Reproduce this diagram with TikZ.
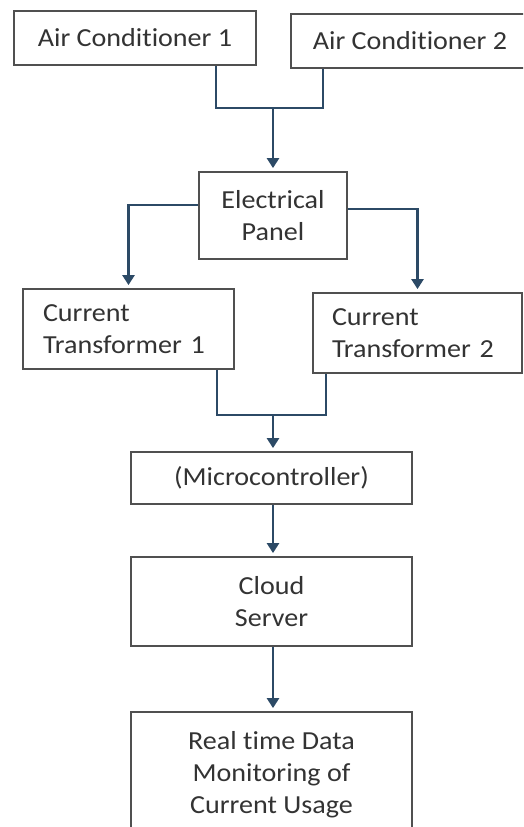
\documentclass[tikz,border=0pt]{standalone}
\usepackage{fontspec}
\setmainfont{Carlito}[FakeStretch=1.08,Ligatures=NoCommon]
\usetikzlibrary{arrows.meta}
\definecolor{boxgray}{HTML}{505050}
\definecolor{linecol}{HTML}{2C4A66}
\begin{document}
\begin{tikzpicture}[x=1pt,y=-1pt,
  box/.style={draw=boxgray,line width=1.8pt,inner sep=0pt,align=center,font=\fontsize{26}{32}\selectfont,text=black!80},
  conn/.style={draw=linecol,line width=2.8pt},
  arr/.style={conn,-{Triangle[width=12pt,length=10pt]},shorten >=3pt}]
\path[use as bounding box] (0,0) rectangle (523,827);
\clip (0,0) rectangle (523,827);
\node[box,minimum width=242pt,minimum height=54pt] (ac1) at (135,38) {Air Conditioner 1};
\node[box,minimum width=238pt,minimum height=54pt] (ac2) at (410,41) {Air Conditioner 2};
\node[box,minimum width=148pt,minimum height=87pt] (ep) at (273,215.5) {Electrical\\Panel};
\node[box,minimum width=211pt,minimum height=80pt,text width=171pt,inner xsep=20pt,align=left] (ct1) at (128.5,329) {Current\\Transformer 1};
\node[box,minimum width=209pt,minimum height=80pt,text width=171pt,inner xsep=19pt,align=left] (ct2) at (417.5,333) {Current\\Transformer 2};
\node[box,minimum width=281pt,minimum height=52pt] (mc) at (271.5,478) {(Microcontroller)};
\node[box,minimum width=281pt,minimum height=89pt] (cs) at (271.5,601.5) {Cloud\\Server};
\node[box,minimum width=281pt,minimum height=126pt] (rt) at (271.5,775) {Real time Data\\Monitoring of\\Current Usage};
\coordinate (xa) at (216,0);
\coordinate (xb) at (323,0);
\coordinate (j1) at (273,108);
\coordinate (yl) at (0,205);
\coordinate (yr) at (0,209);
\coordinate (xc) at (217,0);
\coordinate (xd) at (326,0);
\coordinate (j2) at (273,415);
\draw[conn] (xa |- ac1.south) |- (j1) -| (xb |- ac2.south);
\draw[arr] (j1) -- (j1 |- ep.north);
\draw[arr] (ep.west |- yl) -| (ct1.north);
\draw[arr] (ep.east |- yr) -| (ct2.north);
\draw[conn] (xc |- ct1.south) |- (j2) -| (xd |- ct2.south);
\draw[arr] (j2) -- (j2 |- mc.north);
\draw[arr] (j2 |- mc.south) -- (j2 |- cs.north);
\draw[arr] (j2 |- cs.south) -- (j2 |- rt.north);
\end{tikzpicture}
\end{document}
